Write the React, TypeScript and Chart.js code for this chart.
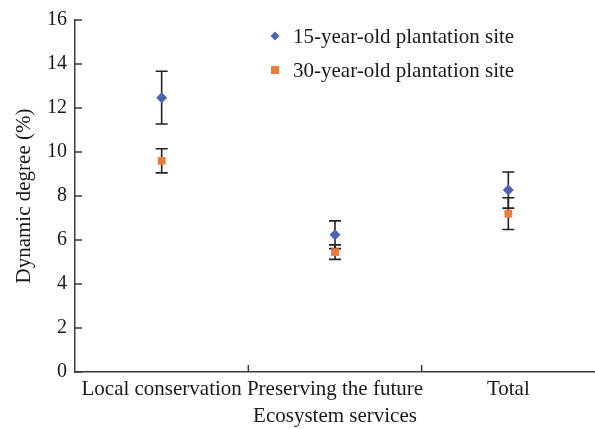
import React, { useEffect, useRef } from "react";
import { Chart, registerables } from "chart.js";

Chart.register(...registerables);

const categories = ["Local conservation", "Preserving the future", "Total"];
const yTickValues = [0, 2, 4, 6, 8, 10, 12, 14, 16];

const series15Label = "15-year-old plantation site";
const series15 = [12.47, 6.24, 8.27];
const series15Err = [1.2, 0.63, 0.82];

const series30Label = "30-year-old plantation site";
const series30 = [9.6, 5.45, 7.2];
const series30Err = [0.55, 0.33, 0.72];

const errorsByDataset = [series15Err, series30Err];

const BLUE = "#4f63b3";
const ORANGE = "#ec7a3a";
const AXIS = "#3a3a3a";
const TEXT = "#1a1a1a";
const FONT = "'Liberation Serif', 'Times New Roman', serif";

const errorBarsPlugin = {
  id: "errorBars",
  beforeDatasetsDraw(chart: any) {
    const ctx = chart.ctx;
    const y = chart.scales.y;
    chart.data.datasets.forEach((ds: any, i: number) => {
      const meta = chart.getDatasetMeta(i);
      const errs = errorsByDataset[i];
      meta.data.forEach((pt: any, j: number) => {
        const v = ds.data[j] as number;
        const e = errs[j];
        const yt = y.getPixelForValue(v + e);
        const yb = y.getPixelForValue(v - e);
        const x = pt.x;
        ctx.save();
        ctx.strokeStyle = "#222";
        ctx.lineWidth = 1.6;
        ctx.beginPath();
        ctx.moveTo(x, yt);
        ctx.lineTo(x, yb);
        ctx.moveTo(x - 6, yt);
        ctx.lineTo(x + 6, yt);
        ctx.moveTo(x - 6, yb);
        ctx.lineTo(x + 6, yb);
        ctx.stroke();
        ctx.restore();
      });
    });
  },
};

const innerTicksPlugin = {
  id: "innerTicks",
  afterDraw(chart: any) {
    const ctx = chart.ctx;
    const { left, bottom } = chart.chartArea;
    const x = chart.scales.x;
    const y = chart.scales.y;
    ctx.save();
    ctx.strokeStyle = AXIS;
    ctx.lineWidth = 1.5;
    ctx.beginPath();
    y.ticks.forEach((t: any) => {
      const py = y.getPixelForValue(t.value);
      ctx.moveTo(left, py);
      ctx.lineTo(left + 7, py);
    });
    for (let i = 0; i < categories.length - 1; i++) {
      const px = (x.getPixelForValue(i) + x.getPixelForValue(i + 1)) / 2;
      ctx.moveTo(px, bottom);
      ctx.lineTo(px, bottom - 7);
    }
    ctx.stroke();
    ctx.restore();
  },
};

const legendPlugin = {
  id: "customLegend",
  afterDraw(chart: any) {
    const ctx = chart.ctx;
    const { left, top } = chart.chartArea;
    const mx = left + 200;
    const rows = [
      { label: chart.data.datasets[0].label, color: BLUE, shape: "diamond", y: top + 16 },
      { label: chart.data.datasets[1].label, color: ORANGE, shape: "square", y: top + 50 },
    ];
    ctx.save();
    rows.forEach((r) => {
      ctx.fillStyle = r.color;
      ctx.beginPath();
      if (r.shape === "diamond") {
        ctx.moveTo(mx, r.y - 4.5);
        ctx.lineTo(mx + 4.5, r.y);
        ctx.lineTo(mx, r.y + 4.5);
        ctx.lineTo(mx - 4.5, r.y);
        ctx.closePath();
      } else {
        ctx.rect(mx - 4, r.y - 4, 8, 8);
      }
      ctx.fill();
      ctx.fillStyle = TEXT;
      ctx.font = `21px ${FONT}`;
      ctx.textBaseline = "middle";
      ctx.textAlign = "left";
      ctx.fillText(r.label, mx + 18, r.y + 1);
    });
    ctx.restore();
  },
};

export default function App() {
  const canvasRef = useRef<HTMLCanvasElement | null>(null);

  useEffect(() => {
    if (!canvasRef.current) return;
    const chart = new Chart(canvasRef.current, {
      type: "line",
      data: {
        labels: categories,
        datasets: [
          {
            label: series15Label,
            data: series15,
            showLine: false,
            pointStyle: "rectRot",
            pointRadius: 5.5,
            pointBackgroundColor: BLUE,
            pointBorderColor: BLUE,
            pointBorderWidth: 0,
            backgroundColor: BLUE,
            borderColor: BLUE,
          },
          {
            label: series30Label,
            data: series30,
            showLine: false,
            pointStyle: "rect",
            pointRadius: 5.5,
            pointBackgroundColor: ORANGE,
            pointBorderColor: ORANGE,
            pointBorderWidth: 0,
            backgroundColor: ORANGE,
            borderColor: ORANGE,
          },
        ],
      },
      options: {
        responsive: false,
        animation: false,
        layout: { autoPadding: false, padding: { top: 18, left: 0, right: 0, bottom: 0 } },
        plugins: {
          legend: { display: false },
          tooltip: { enabled: false },
        },
        scales: {
          x: {
            type: "category",
            offset: true,
            grid: { display: false, drawTicks: false },
            border: { display: true, color: AXIS, width: 1.5 },
            ticks: {
              color: TEXT,
              font: { family: FONT, size: 21 },
              padding: 5,
              maxRotation: 0,
              autoSkip: false,
            },
            title: {
              display: true,
              text: "Ecosystem services",
              color: TEXT,
              font: { family: FONT, size: 21 },
              padding: { top: 0, bottom: 0 },
            },
            afterFit: (s: any) => {
              s.height = 57;
            },
          },
          y: {
            min: 0,
            max: 16,
            afterBuildTicks: (s: any) => {
              s.ticks = yTickValues.map((v) => ({ value: v }));
            },
            grid: { display: false, drawTicks: false },
            border: { display: true, color: AXIS, width: 1.5 },
            ticks: {
              color: TEXT,
              font: { family: FONT, size: 20 },
              padding: 8,
            },
            title: {
              display: true,
              text: "Dynamic degree (%)",
              color: TEXT,
              font: { family: FONT, size: 21 },
              padding: { top: 12, bottom: 0 },
            },
            afterFit: (s: any) => {
              s.width = 75;
            },
          },
        },
      },
      plugins: [errorBarsPlugin, innerTicksPlugin, legendPlugin],
    } as any);
    return () => chart.destroy();
  }, []);

  return (
    <div style={{ position: "absolute", left: 0, top: 0, width: 595, height: 429, background: "#fff" }}>
      <canvas ref={canvasRef} width={595} height={429} style={{ display: "block" }} />
    </div>
  );
}
